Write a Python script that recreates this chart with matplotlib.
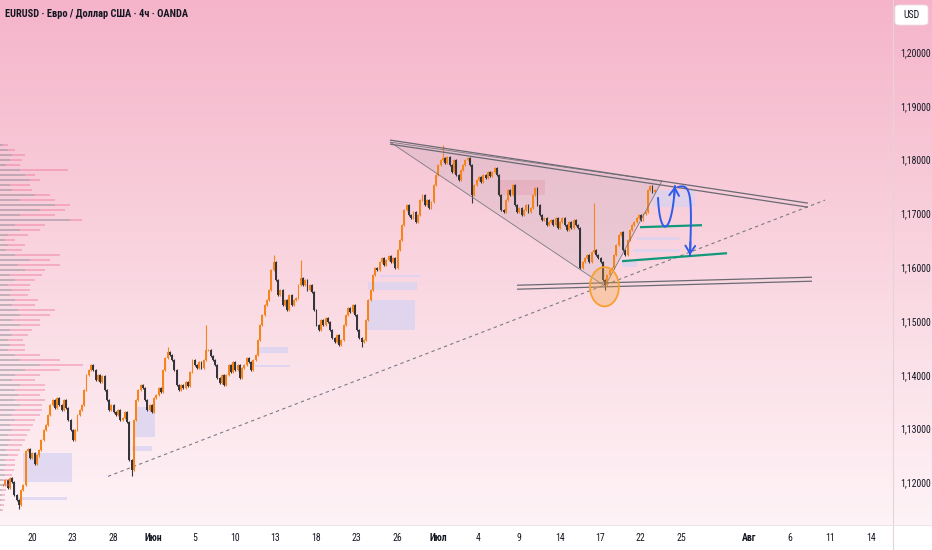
import numpy as np
import matplotlib
matplotlib.use('Agg')
import matplotlib.pyplot as plt
from matplotlib import font_manager as fm
from matplotlib.patches import Polygon, Ellipse, Rectangle, FancyBboxPatch
from matplotlib.colors import LinearSegmentedColormap
from matplotlib.lines import Line2D

# ---------------- DATA ----------------
# 4h closes of EURUSD, expressed in pips above 1.1000
closes_pips = [
    195, 204, 190, 208, 200, 177, 167, 158, 186, 195, 258, 262,
    245, 254, 235, 250, 260, 279, 297, 306, 325, 344, 353, 338, 357,
    344, 335, 353, 338, 316, 297, 279, 297, 325, 335, 344,
    372, 400, 409, 418, 409, 390, 400, 387, 398, 372, 353, 335, 344, 331,
    325, 335, 316, 320, 331, 312, 242, 223, 316, 353, 372, 381, 376,
    353, 335, 344, 331, 357, 362, 376, 368, 409, 431, 442, 437,
    427, 409, 381, 372, 381, 376, 387, 379, 405, 427, 418,
    413, 424, 413, 427, 446, 446, 435, 427, 418, 394, 385, 400, 381,
    400, 418, 405, 424, 409, 418, 394, 413, 418, 431, 424, 409, 427,
    437, 465, 492, 511, 530, 539, 558, 595, 610, 576, 548, 558, 530,
    539, 520, 548, 530, 539, 543, 567, 580, 567, 576, 558, 567, 554,
    520, 492, 483, 502, 492, 505, 498, 483, 468, 461, 474, 455, 465,
    492, 511, 524, 517, 530, 511, 483, 468, 461, 465, 502, 539, 558,
    585, 599, 595, 610, 617, 604, 613, 621, 610, 617, 599, 632, 651,
    678, 706, 716, 697, 691, 703, 684, 697, 725, 734, 716, 725, 710, 721,
    753, 771, 790, 799, 803, 794, 805, 790, 777, 799, 771, 762,
    781, 790, 799, 803, 790, 734, 753, 762, 768, 758, 771, 766, 777, 769,
    777, 784, 771, 734, 706, 703, 725, 743, 734, 753, 716, 703, 710, 697,
    706, 716, 703, 710, 734, 747, 716, 697, 688, 691, 678, 684,
    688, 678, 691, 673, 684, 691, 678, 669, 684, 673, 688, 678, 673,
    599, 610, 617, 623, 610, 628, 632, 623, 617, 610, 576, 567,
    585, 595, 599, 623, 641, 660, 665, 632, 623, 651, 669, 678, 684,
    691, 697, 688, 699, 703, 743, 751, 740, 743,
]
# notable wick extremes (bar index -> pips above 1.1000)
high_marks = {73: 452, 90: 493, 120: 623, 132: 613, 195: 828, 262: 719}
low_marks = {7: 150, 57: 212, 159: 452, 208: 719, 267: 558}

first_bar_day = -2.14      # trading-day index of first bar (20 May = 0)
bars_per_day = 6

tick_days = [0, 3, 6, 9, 12, 15, 18, 21, 24, 27, 30, 33, 36, 39, 42, 45, 48, 53, 56, 59, 62]
tick_labels = ['20', '23', '28', 'Июн', '5', '10', '13', '18', '23', '26', 'Июл',
               '4', '9', '14', '17', '22', '25', 'Авг', '6', '11', '14']
month_labels = {'Июн', 'Июл', 'Авг'}
price_ticks = [1.12, 1.13, 1.14, 1.15, 1.16, 1.17, 1.18, 1.19, 1.20]

# volume profile (top -> bottom rows), total and sell part
vp_total = [8, 15, 25, 22, 20, 68, 35, 40, 30, 32, 50, 55, 70, 65, 55, 82, 45, 40, 28, 15,
            25, 22, 60, 50, 60, 45, 42, 35, 30, 30, 28, 38, 35, 55, 50, 40, 40, 32, 28, 23,
            25, 25, 40, 60, 83, 60, 40, 35, 45, 45, 40, 45, 42, 42, 40, 35, 33, 30, 27, 25,
            22, 20, 18, 15, 15, 14, 12, 10, 10, 6, 5, 5, 4, 3]
vp_sell = [3, 8, 12, 10, 6, 20, 25, 30, 10, 12, 35, 20, 55, 40, 20, 70, 15, 20, 8, 5,
           8, 6, 15, 30, 18, 25, 10, 15, 8, 12, 10, 15, 12, 18, 20, 12, 20, 10, 12, 8,
           10, 8, 15, 20, 40, 25, 15, 12, 20, 15, 18, 15, 20, 15, 12, 15, 10, 12, 8, 10,
           8, 6, 8, 5, 6, 4, 5, 3, 4, 2, 2, 2, 1, 1]
vp_top, vp_bottom = 1.1827, 1.1149

# drawings (trading-day index, price)
upper_a = [(26.46, 1.18363), (57.35, 1.17191)]
upper_b = [(26.46, 1.18288), (57.35, 1.17116)]
triangle = [(26.46, 1.18326), (42.35, 1.15647), (46.56, 1.17600)]
support_a = [(35.85, 1.15665), (57.65, 1.15814)]
support_b = [(35.85, 1.15591), (57.65, 1.15740)]
dashed_trend = [(5.62, 1.12112), (58.61, 1.17247)]
circle = (42.31, 1.15637, 2.14, 0.0073)
green_1 = [(44.94, 1.16744), (49.52, 1.16781)]
green_2 = [(43.61, 1.16112), (51.37, 1.16260)]
arrow_up = [(46.27, 1.17284), (46.42, 1.16502), (47.30, 1.16595), (47.52, 1.17507)]
arrow_down = [(47.75, 1.17488), (48.78, 1.17581), (48.78, 1.17247), (48.63, 1.16223)]
zones = [  # x0, x1, p_low, p_high, kind
    (-0.67, 2.96, 1.12000, 1.12540, 'l'),
    (-1.03, 2.59, 1.11665, 1.11721, 'l'),
    (7.61, 9.09, 1.12837, 1.13395, 'l'),
    (7.39, 8.87, 1.12577, 1.12670, 'l'),
    (16.63, 18.92, 1.14400, 1.14512, 'l'),
    (16.48, 19.07, 1.14140, 1.14177, 'l'),
    (24.76, 28.31, 1.14828, 1.15386, 'l'),
    (24.83, 28.46, 1.15572, 1.15721, 'l'),
    (25.72, 28.68, 1.15814, 1.15851, 'l'),
    (34.37, 37.92, 1.17340, 1.17619, 'p'),
    (45.90, 49.00, 1.17116, 1.17433, 'l'),
    (44.70, 47.90, 1.16502, 1.16558, 'l'),
    (44.40, 47.90, 1.16279, 1.16335, 'l'),
    (43.60, 44.70, 1.16000, 1.16093, 'l'),
]

# ---------------- FONTS ----------------
avail = {f.name for f in fm.fontManager.ttflist}
def pick(*names):
    for nm in names:
        if nm in avail:
            return nm
    return 'DejaVu Sans'
NARROW = pick('Liberation Sans Narrow', 'Roboto Condensed', 'Roboto', 'Liberation Sans')
FAM = [NARROW, 'DejaVu Sans']

W, H = 932, 550
PLOT_R, PLOT_B = 893, 525
fig = plt.figure(figsize=(W / 100, H / 100), dpi=100, facecolor='#ffffff')

# background gradient
bg = fig.add_axes([0, 1 - PLOT_B / H, 1, PLOT_B / H])
cmap = LinearSegmentedColormap.from_list('bg', ['#F5B4CA', '#F8CAD8', '#FBE0E8', '#FEF3F6'])
bg.imshow(np.linspace(0, 1, 256)[:, None], aspect='auto', cmap=cmap, extent=[0, 1, 0, 1])
bg.set_axis_off()

ax = fig.add_axes([0, 1 - PLOT_B / H, PLOT_R / W, PLOT_B / H])
ax.set_facecolor('none')
xmin, xmax = (0 - 32) / 13.53, (PLOT_R - 32) / 13.53
ymin, ymax = 1.11208, 1.20967
ax.set_xlim(xmin, xmax)
ax.set_ylim(ymin, ymax)

# volume profile (own overlay axes in pixel-length units)
axv = fig.add_axes(ax.get_position())
axv.set_facecolor('none')
axv.set_xlim(0, PLOT_R)
axv.set_ylim(ymin, ymax)
axv.set_axis_off()
levels = np.linspace(vp_top, vp_bottom, len(vp_total))
rowh = (vp_top - vp_bottom) / (len(vp_total) - 1) * 0.48
vt = np.array(vp_total, float)
vs = np.array(vp_sell, float)
axv.barh(levels, vs, height=rowh, left=0, color='#6e6e7a', alpha=0.38, lw=0, zorder=1)
axv.barh(levels, vt - vs, height=rowh, left=vs, color='#ee6a92', alpha=0.38, lw=0, zorder=1)

# zones
for x0, x1, p0, p1, kind in zones:
    col = '#d9d3f2' if kind == 'l' else '#f4a3b4'
    a = 0.75 if kind == 'l' else 0.45
    ax.add_patch(Rectangle((x0, p0), x1 - x0, p1 - p0, facecolor=col, edgecolor='none',
                           alpha=a, zorder=1))

# triangle
ax.add_patch(Polygon(triangle, closed=True, facecolor='#8f8f9a', alpha=0.14,
                     edgecolor='none', zorder=1))
ax.add_patch(Polygon(triangle, closed=True, facecolor='none', edgecolor='#6f6f78',
                     lw=0.6, alpha=0.9, zorder=4))

# candles
c = 1.1 + np.array(closes_pips) / 10000
o = np.r_[c[0], c[:-1]]
n = len(c)
x = first_bar_day + np.arange(n) / bars_per_day
wick_min = 0.0002
hi = np.maximum(o, c) + wick_min
lo = np.minimum(o, c) - wick_min
for k, v in high_marks.items():
    hi[k] = 1.1 + v / 10000
for k, v in low_marks.items():
    lo[k] = 1.1 + v / 10000
bull, bear = '#F5851A', '#34343b'
cols = np.where(c >= o, bull, bear)
ax.vlines(x, lo, hi, colors=cols, lw=0.8, zorder=3)
body = np.maximum(np.abs(c - o), 0.0001)
ax.bar(x, body, bottom=np.minimum(o, c), width=0.14, color=cols, lw=0, zorder=3)

# lines
for ln in (upper_a, upper_b, support_a, support_b):
    (x0, y0), (x1, y1) = ln
    ax.plot([x0, x1], [y0, y1], color='#6a6a73', lw=0.9, zorder=4, solid_capstyle='butt')
(x0, y0), (x1, y1) = dashed_trend
ax.plot([x0, x1], [y0, y1], color='#7a7a84', lw=0.8, ls=(0, (3, 3)), zorder=2)

# circle
cx, cy, cw, chh = circle
ax.add_patch(Ellipse((cx, cy), cw, chh, facecolor='#F9A43A', alpha=0.32, edgecolor='none', zorder=5))
ax.add_patch(Ellipse((cx, cy), cw, chh, facecolor='none', edgecolor='#F6A12E', lw=1.3, zorder=5))

# green levels
for ln in (green_1, green_2):
    (x0, y0), (x1, y1) = ln
    ax.plot([x0, x1], [y0, y1], color='#13987a', lw=1.6, zorder=5, solid_capstyle='butt')

# blue curved arrows
def bez(pts, m=60):
    p = np.array(pts)
    t = np.linspace(0, 1, m)[:, None]
    return ((1 - t) ** 3) * p[0] + 3 * ((1 - t) ** 2) * t * p[1] + 3 * (1 - t) * t ** 2 * p[2] + t ** 3 * p[3]
blue = '#2f5bea'
for pts in (arrow_up, arrow_down):
    cv = bez(pts)
    ax.plot(cv[:, 0], cv[:, 1], color=blue, lw=1.4, zorder=6)
    ax.annotate('', xy=tuple(cv[-1]), xytext=tuple(cv[-6]),
                arrowprops=dict(arrowstyle='->,head_length=0.55,head_width=0.35', color=blue,
                                lw=1.4, shrinkA=0, shrinkB=0), zorder=6)

# axes styling
for s in ax.spines.values():
    s.set_visible(False)
ax.yaxis.tick_right()
ax.set_yticks(price_ticks)
ax.set_yticklabels([f'{p:.5f}'.replace('.', ',') for p in price_ticks])
ax.tick_params(axis='y', length=0, pad=5, labelsize=7, labelcolor='#131722')
ax.set_xticks(tick_days)
ax.set_xticklabels(tick_labels)
ax.tick_params(axis='x', length=0, pad=6, labelsize=7, labelcolor='#131722')
for lab in ax.get_xticklabels() + ax.get_yticklabels():
    lab.set_family(FAM)
    if lab.get_text() in month_labels:
        lab.set_fontweight('bold')

# separators
fig.add_artist(Line2D([PLOT_R / W, PLOT_R / W], [0, 1], transform=fig.transFigure,
                      color='#e6d3da', lw=0.8))
fig.add_artist(Line2D([0, 1], [1 - PLOT_B / H, 1 - PLOT_B / H], transform=fig.transFigure,
                      color='#ece4e8', lw=0.8))

# USD box
fig.add_artist(FancyBboxPatch((895 / W, 1 - 25 / H), 33 / W, 20 / H,
                              boxstyle='round,pad=0,rounding_size=0.005',
                              transform=fig.transFigure, facecolor='#ffffff',
                              edgecolor='#f0e0e6', lw=0.6))
fig.text(911.5 / W, 1 - 15 / H, 'USD', ha='center', va='center', fontsize=7,
         color='#131722', family=FAM)

# title
fig.text(5 / W, 1 - 14 / H, 'EURUSD · Евро / Доллар США · 4ч · OANDA', ha='left', va='center',
         fontsize=7.5, fontweight='bold', color='#131722', family=FAM)

fig.savefig('out.png', dpi=100, facecolor=fig.get_facecolor())
